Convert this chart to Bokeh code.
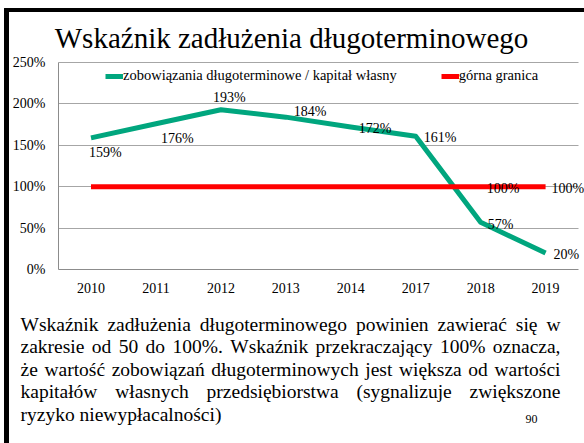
from bokeh.plotting import figure
from bokeh.models import (ColumnDataSource, Range1d, LabelSet, Legend,
                          LegendItem, FixedTicker, Grid)
from bokeh.core.properties import value
from bokeh.embed import file_html
from bokeh.resources import INLINE

# ---------------- data ----------------
years = ["2010", "2011", "2012", "2013", "2014", "2017", "2018", "2019"]
ratio = [159, 176, 193, 184, 172, 161, 57, 20]
upper_limit = [100, 100, 100, 100, 100, 100, 100, 100]
y_ticks = [0, 50, 100, 150, 200, 250]
series_names = ["zobowiązania długoterminowe / kapitał własny", "górna granica"]
title_text = "Wskaźnik zadłużenia długoterminowego"
body_lines = [
    "Wskaźnik zadłużenia długoterminowego powinien zawierać się w",
    "zakresie od 50 do 100%. Wskaźnik przekraczający 100% oznacza,",
    "że wartość zobowiązań długoterminowych jest większa od wartości",
    "kapitałów własnych przedsiębiorstwa (sygnalizuje zwiększone",
    "ryzyko niewypłacalności)",
]
page_number = "90"

# ---------------- style / page geometry ----------------
FONT = "Liberation Serif"
GREEN = "#00A67E"
RED = "#FF0000"
PAGE_W, PAGE_H = 584, 443
X0, XS = 90.5, 64.94      # page x of first category, px per category
Y0, YS = 269.0, 0.828     # page y of 0 %, px per 1 %


def px2x(px):
    return (px - X0) / XS


def py2y(py):
    return (Y0 - py) / YS


x_idx = list(range(len(years)))
p = figure(width=PAGE_W, height=PAGE_H,
           x_range=Range1d(px2x(0), px2x(PAGE_W)),
           y_range=Range1d(py2y(PAGE_H), py2y(0)),
           output_backend="svg", toolbar_location=None, min_border=0)
p.outline_line_color = None
p.background_fill_color = "white"
p.border_fill_color = "white"

# axes placed inside the frame at the chart's edges
p.xaxis.fixed_location = 0
p.yaxis.fixed_location = -0.5
p.xaxis.bounds = (-0.5, len(years) - 0.5)
p.yaxis.bounds = (y_ticks[0], y_ticks[-1])
p.xaxis.ticker = FixedTicker(ticks=x_idx)
p.xaxis.major_label_overrides = {i: y for i, y in enumerate(years)}
p.yaxis.ticker = FixedTicker(ticks=y_ticks)
p.yaxis.major_label_overrides = {t: f"{t}%" for t in y_ticks}
for ax in (p.xaxis[0], p.yaxis[0]):
    ax.axis_line_color = "#8C8C8C"
    ax.axis_line_width = 1
    ax.major_tick_line_color = None
    ax.minor_tick_line_color = None
    ax.major_tick_out = 0
    ax.major_tick_in = 0
    ax.major_label_text_font = FONT
    ax.major_label_text_font_size = "14px"
    ax.major_label_text_color = "black"
    ax.major_label_standoff = 13

p.xgrid.grid_line_color = None
p.ygrid.grid_line_color = None
grid_color = "#A6A6A6"
if "cross_bounds" in Grid.properties():
    p.ygrid.ticker = FixedTicker(ticks=y_ticks[1:])
    p.ygrid.bounds = (y_ticks[1], y_ticks[-1])
    p.ygrid.cross_bounds = (-0.5, len(years) - 0.5)
    p.ygrid.grid_line_color = grid_color
else:
    p.segment(x0=-0.5, x1=len(years) - 0.5, y0=y_ticks[1:], y1=y_ticks[1:],
              line_color=grid_color, line_width=1)

# slide border
p.quad(left=px2x(4), right=px2x(8), top=py2y(8), bottom=py2y(PAGE_H),
       color="black")
p.quad(left=px2x(4), right=px2x(PAGE_W), top=py2y(8), bottom=py2y(11),
       color="black")

g = p.line(x_idx, ratio, line_width=5, color=GREEN, line_join="round")
r = p.line(x_idx, upper_limit, line_width=5, color=RED)

legend = Legend(items=[LegendItem(label=series_names[0], renderers=[g]),
                       LegendItem(label=series_names[1], renderers=[r])],
                orientation="horizontal", location=(105, PAGE_H - 84),
                glyph_width=18, glyph_height=14, label_standoff=0,
                spacing=44, padding=0, margin=0,
                background_fill_alpha=0, border_line_alpha=0,
                label_text_font=FONT, label_text_font_size="14.5px",
                label_text_color="black")
p.add_layout(legend)

green_dx = [-2, 5, -8, 8, 8, 8, 7, 8]
green_dy = [-15, -15, 12, 6, -1.5, -1, -2, -2]
gsrc = ColumnDataSource(dict(x=x_idx, y=ratio, t=[f"{v}%" for v in ratio],
                             dx=green_dx, dy=green_dy))
p.add_layout(LabelSet(x="x", y="y", text="t", x_offset="dx", y_offset="dy",
                      source=gsrc, text_align="left", text_baseline="middle",
                      text_font=FONT, text_font_size="14px", text_color="black"))
rsrc = ColumnDataSource(dict(x=x_idx[6:], y=upper_limit[6:],
                             t=[f"{v}%" for v in upper_limit[6:]]))
p.add_layout(LabelSet(x="x", y="y", text="t", x_offset=6, y_offset=-2,
                      source=rsrc, text_align="left", text_baseline="middle",
                      text_font=FONT, text_font_size="14px", text_color="black"))

# title
p.text(x=[px2x(291)], y=[py2y(37)], text=[title_text], text_align="center",
       text_baseline="alphabetic", text_font=value(FONT),
       text_font_size="29px", text_color="black")

# justified body text (Times New Roman / Liberation Serif advance widths)
CW = {" ": 250, "a": 444, "b": 500, "c": 444, "d": 500, "e": 444, "f": 333,
      "g": 500, "h": 500, "i": 278, "j": 278, "k": 500, "l": 278, "m": 778,
      "n": 500, "o": 500, "p": 500, "r": 333, "s": 389, "t": 278, "u": 500,
      "w": 722, "y": 500, "z": 444, "W": 944, "ą": 444, "ę": 444, "ć": 444,
      "ś": 389, "ź": 444, "ż": 444, "ł": 278, "ń": 500, "ó": 500, "(": 333,
      ")": 333, "%": 833, ".": 250, ",": 250, "0": 500, "1": 500, "5": 500}
BODY_SIZE = 19.5
LEFT, RIGHT = 20, 560
BASE0, LEAD = 323.5, 22.6


def wlen(s):
    return sum(CW.get(ch, 500) for ch in s) * BODY_SIZE / 1000


wx, wy, wt = [], [], []
for i, line in enumerate(body_lines):
    words = line.split(" ")
    widths = [wlen(w) for w in words]
    if i < len(body_lines) - 1 and len(words) > 1:
        gap = (RIGHT - LEFT - sum(widths)) / (len(words) - 1)
    else:
        gap = wlen(" ")
    x = LEFT
    for w, wd in zip(words, widths):
        wx.append(px2x(x))
        wy.append(py2y(BASE0 + i * LEAD))
        wt.append(w)
        x += wd + gap
bsrc = ColumnDataSource(dict(x=wx, y=wy, t=wt))
p.text(x="x", y="y", text="t", source=bsrc, text_align="left",
       text_baseline="alphabetic", text_font=value(FONT),
       text_font_size=f"{BODY_SIZE}px", text_color="black")
p.text(x=[px2x(525)], y=[py2y(418)], text=[page_number], text_align="left",
       text_baseline="alphabetic", text_font=value(FONT),
       text_font_size="12px", text_color="black")

open("out.html", "w").write(file_html(p, INLINE))
